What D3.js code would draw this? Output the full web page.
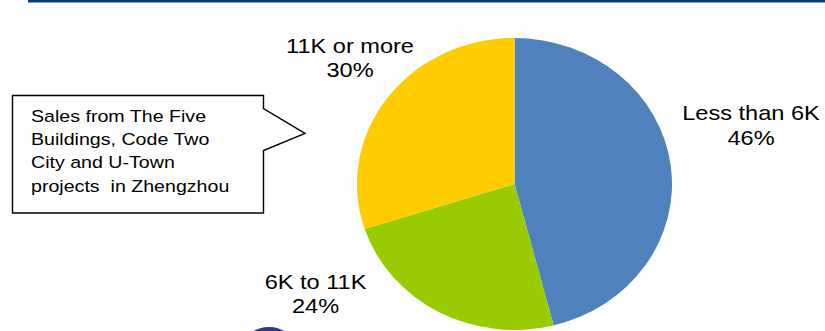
<!DOCTYPE html>
<html>
<head>
<meta charset="utf-8">
<script src="https://cdn.jsdelivr.net/npm/d3@7"></script>
<style>
  html, body { margin: 0; padding: 0; background: #fff; }
  svg { display: block; }
  text { font-family: "Liberation Sans", Arial, sans-serif; fill: #000; }
</style>
</head>
<body>
<svg id="chart" width="825" height="331"></svg>
<script>
// Price bands and their share of sales
const categories = ["Less than 6K", "6K to 11K", "11K or more"];
const shares = [46, 24, 30];
const sliceColors = ["#4F81BD", "#99CC00", "#FFCC00"];
const noteLines = ["Sales from The Five", "Buildings, Code Two", "City and U-Town", "projects  in Zhengzhou"];

const svg = d3.select("#chart");
const W = 825, H = 331;

// header rule
svg.append("rect").attr("x", 28).attr("y", 0).attr("width", W - 28).attr("height", 2.5).attr("fill", "#073F7B");

// pie, slightly wider than tall
const cx = 514.5, cy = 184, ry = 146, sx = 157.5 / 146;
const pie = d3.pie().sort(null).value(d => d.v);
const arcs = pie(categories.map((c, i) => ({ c, v: shares[i], color: sliceColors[i] })));
const arc = d3.arc().innerRadius(0).outerRadius(ry);

const g = svg.append("g").attr("transform", `translate(${cx},${cy}) scale(${sx},1)`);
g.selectAll("path").data(arcs).join("path")
  .attr("d", arc)
  .attr("fill", d => d.data.color);

// slice labels
const labelPos = {
  "Less than 6K": [751, 120],
  "6K to 11K": [315.5, 288.5],
  "11K or more": [350, 52.7]
};
const lab = svg.append("g");
arcs.forEach(d => {
  const [x, y] = labelPos[d.data.c];
  const t = lab.append("g").attr("transform", `translate(${x},${y}) scale(1.15,1)`);
  t.append("text").attr("text-anchor", "middle").attr("font-size", 20.5).text(d.data.c);
  t.append("text").attr("text-anchor", "middle").attr("y", 24.8).attr("font-size", 20.5)
    .text(d3.format("d")(d.data.v) + "%");
});

// callout box with pointer
const bx0 = 12.5, by0 = 95.5, bx1 = 263.5, by1 = 213;
const callout = d3.path();
callout.moveTo(bx0, by0);
callout.lineTo(bx1, by0);
callout.lineTo(bx1, 108.5);
callout.lineTo(305, 133.5);
callout.lineTo(bx1, 150.5);
callout.lineTo(bx1, by1);
callout.lineTo(bx0, by1);
callout.closePath();
svg.append("path").attr("d", callout.toString())
  .attr("fill", "#fff").attr("stroke", "#000").attr("stroke-width", 1.4);

const note = svg.append("g");
noteLines.forEach((s, i) => {
  note.append("g").attr("transform", `translate(31,${121.7 + i * 23.3}) scale(1.14,1)`)
    .append("text").attr("font-size", 17.2).attr("xml:space", "preserve").style("white-space", "pre").text(s);
});

// logo badge peeking in at the bottom edge
svg.append("ellipse").attr("cx", 269).attr("cy", 346).attr("rx", 25).attr("ry", 19).attr("fill", "#2B3C86");
</script>
</body>
</html>
